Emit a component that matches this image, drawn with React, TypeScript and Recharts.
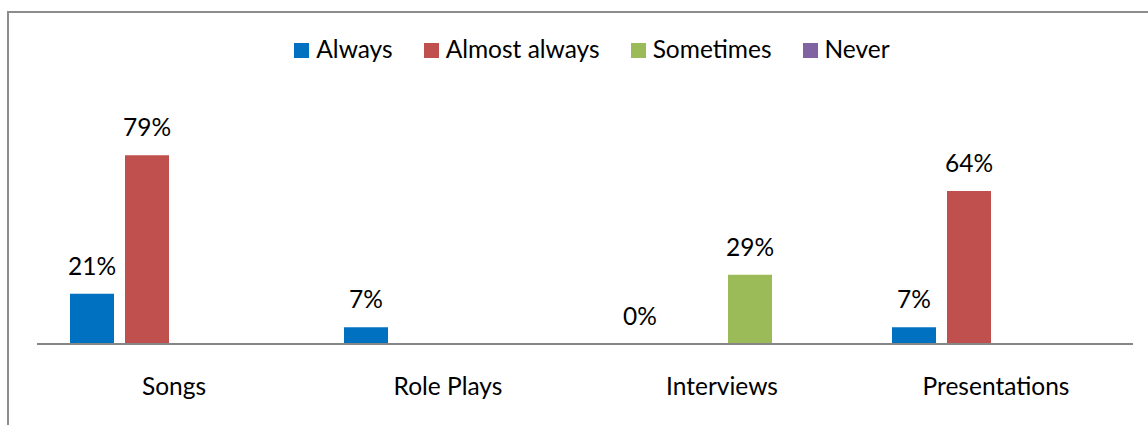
import { BarChart, Bar, XAxis, YAxis, Legend } from "recharts";

const categories = ["Songs", "Role Plays", "Interviews", "Presentations"];
const always = [21, 7, 0, 7];
const almostAlways = [79, null, null, 64];
const sometimes = [null, null, 29, null];
const never = [null, null, null, null];

const seriesNames = ["Always", "Almost always", "Sometimes", "Never"];
const seriesKeys = ["always", "almostAlways", "sometimes", "never"];
const colors = ["#0070C0", "#C0504D", "#9BBB59", "#8064A2"];

const data = categories.map((name, i) => ({
  name,
  always: always[i],
  almostAlways: almostAlways[i],
  sometimes: sometimes[i],
  never: never[i],
}));

const FONT = "Lato, 'Noto Sans', sans-serif";
const FS = 24.5;

const renderLabel = (props: any) => {
  const { x, y, width, value } = props;
  if (value === null || value === undefined) return null;
  return (
    <text
      x={x + width / 2}
      y={y - 19}
      textAnchor="middle"
      fontSize={FS}
      fontFamily={FONT}
      fill="#000"
    >
      {value}%
    </text>
  );
};

const renderTick = (props: any) => {
  const { x, y, payload } = props;
  return (
    <text
      x={x}
      y={y + 51}
      textAnchor="middle"
      fontSize={FS}
      fontFamily={FONT}
      fill="#000"
    >
      {payload.value}
    </text>
  );
};

const renderLegend = () => (
  <div
    style={{
      display: "flex",
      justifyContent: "center",
      alignItems: "baseline",
      fontFamily: FONT,
      fontSize: FS,
      lineHeight: "29px",
      color: "#000",
      paddingLeft: 14,
    }}
  >
    {seriesNames.map((n, i) => (
      <div
        key={n}
        style={{ display: "flex", alignItems: "baseline", marginRight: i < 3 ? 31 : 0 }}
      >
        <span
          style={{
            display: "inline-block",
            width: 15,
            height: 15,
            background: colors[i],
            marginRight: 7,
          }}
        />
        <span>{n}</span>
      </div>
    ))}
  </div>
);

// a zero value still gets its label, so give it a hairline height
const zeroSize = (value: any) => (value === 0 ? 0.01 : 0);

export default function App() {
  return (
    <div
      style={{
        position: "fixed",
        left: 0,
        top: 0,
        width: 1148,
        height: 425,
        overflow: "hidden",
        background: "#fff",
      }}
    >
      <div
        style={{
          position: "absolute",
          left: 7,
          top: 11,
          width: 2000,
          height: 2000,
          border: "2px solid #8c8c8c",
        }}
      />
      <div style={{ position: "absolute", left: 0, top: 0 }}>
        <BarChart
          width={1148}
          height={425}
          data={data}
          margin={{ top: 76, right: 15, left: 37, bottom: 0 }}
          barSize={44}
          barGap={11}
        >
          <XAxis
            dataKey="name"
            height={81}
            axisLine={{ stroke: "#868686", strokeWidth: 2 }}
            tickLine={false}
            tickSize={0}
            tickMargin={0}
            tick={renderTick}
          />
          <YAxis hide domain={[0, 100]} />
          <Legend
            verticalAlign="top"
            content={renderLegend}
            wrapperStyle={{ top: 34 }}
          />
          {seriesKeys.map((k, i) => (
            <Bar
              key={k}
              dataKey={k}
              name={seriesNames[i]}
              fill={colors[i]}
              isAnimationActive={false}
              minPointSize={zeroSize}
              label={renderLabel}
            />
          ))}
        </BarChart>
      </div>
    </div>
  );
}
